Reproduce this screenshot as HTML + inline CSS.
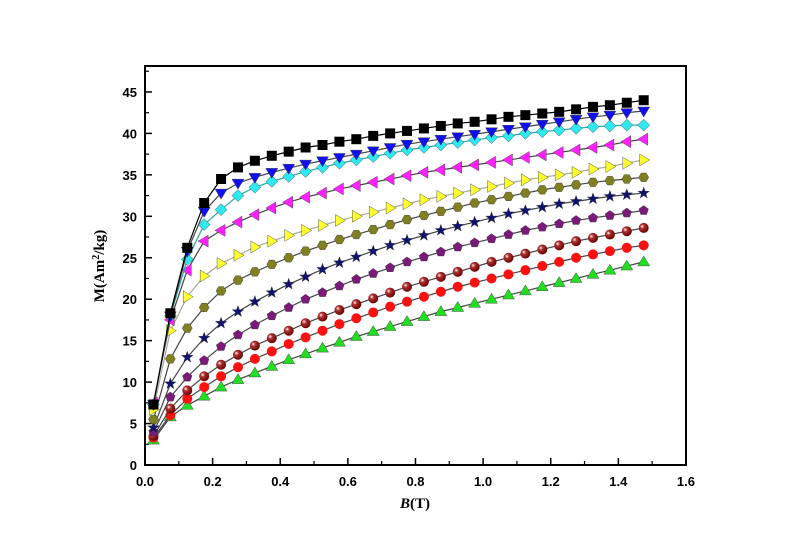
<!DOCTYPE html>
<html><head><meta charset="utf-8"><style>
body{margin:0;background:#fff;}
svg{display:block;}
text{font-family:"Liberation Sans",sans-serif;}
</style></head><body>
<svg id="chart" width="800" height="559">
<rect x="145" y="66" width="541" height="399" fill="none" stroke="#000" stroke-width="2"/>
<g id="axes"></g>
<g id="series"></g>
<text x="415" y="508" text-anchor="middle" font-size="15" font-weight="bold" style="font-family:'Liberation Serif',serif"><tspan font-style="italic">B</tspan>(T)</text>
<text transform="translate(104,266) rotate(-90)" text-anchor="middle" font-size="15" font-weight="bold" style="font-family:'Liberation Serif',serif">M(Am<tspan baseline-shift="super" font-size="10">2</tspan>/kg)</text>
<defs>
<radialGradient id="ball" cx="0.35" cy="0.35" r="0.7"><stop offset="0" stop-color="#fff"/><stop offset="0.3" stop-color="#b03030"/><stop offset="1" stop-color="#600000"/></radialGradient>
</defs>
</svg>
<script>
const xVals=[0.025,0.075,0.125,0.175,0.225,0.275,0.325,0.375,0.425,0.475,0.525,0.575,0.625,0.675,0.725,0.775,0.825,0.875,0.925,0.975,1.025,1.075,1.125,1.175,1.225,1.275,1.325,1.375,1.425,1.475];
const sBlack=[7.3,18.3,26.2,31.6,34.5,35.9,36.7,37.3,37.8,38.3,38.6,39,39.3,39.7,40,40.3,40.6,40.9,41.2,41.4,41.7,42,42.2,42.4,42.6,42.9,43.2,43.4,43.7,44];
const sBlue=[7.3,18,25.8,30.6,32.8,34,34.7,35.3,35.8,36.3,36.7,37.1,37.5,37.9,38.3,38.7,39,39.3,39.6,39.9,40.2,40.5,40.8,41.1,41.4,41.7,42,42.2,42.5,42.7];
const sCyan=[7.3,18,24.8,29,30.8,32.5,33.5,34.2,34.8,35.4,35.9,36.4,36.8,37.2,37.6,38,38.3,38.6,38.9,39.2,39.5,39.7,40,40.2,40.4,40.6,40.8,40.9,41,41];
const sMagenta=[7.5,17.5,23.5,27,28.3,29.3,30.2,31,31.7,32.3,32.8,33.3,33.7,34.1,34.5,34.9,35.3,35.6,35.9,36.2,36.5,36.8,37.1,37.4,37.7,38,38.3,38.6,39,39.3];
const sYellow=[6.7,16.2,20.3,22.8,24.3,25.3,26.3,27,27.7,28.3,28.9,29.5,30,30.5,31,31.5,32,32.4,32.8,33.2,33.6,34,34.4,34.7,35,35.3,35.7,36,36.4,36.8];
const sOlive=[5.5,12.8,16.5,19,21,22.3,23.3,24.2,25,25.8,26.5,27.2,27.8,28.4,29,29.6,30.1,30.6,31.1,31.6,32,32.4,32.8,33.2,33.5,33.8,34.1,34.3,34.5,34.7];
const sStar=[4.5,9.8,13,15.3,17.1,18.5,19.7,20.8,21.8,22.7,23.6,24.4,25.1,25.8,26.5,27.1,27.7,28.3,28.8,29.3,29.8,30.3,30.7,31.1,31.5,31.8,32.1,32.4,32.6,32.8];
const sPurple=[4,8.2,10.6,12.6,14.3,15.7,16.9,18,19,20,20.8,21.6,22.4,23.1,23.8,24.5,25.1,25.7,26.3,26.8,27.3,27.8,28.3,28.7,29.1,29.5,29.8,30.1,30.4,30.7];
const sDarkRed=[3.5,6.8,9,10.7,12.1,13.3,14.4,15.3,16.2,17.1,17.9,18.7,19.4,20.1,20.8,21.5,22.1,22.7,23.3,23.9,24.5,25,25.5,26,26.5,27,27.4,27.8,28.2,28.6];
const sRed=[3.3,6,8,9.4,10.7,11.8,12.8,13.7,14.6,15.4,16.2,17,17.7,18.4,19.1,19.7,20.3,20.9,21.5,22,22.5,23,23.5,24,24.5,25,25.4,25.8,26.2,26.5];
const sGreen=[3,5.8,7.2,8.3,9.4,10.3,11.1,11.9,12.7,13.4,14.1,14.8,15.5,16.1,16.7,17.3,17.9,18.5,19,19.5,20,20.5,21,21.5,22,22.5,23,23.5,24,24.5];
const xTicks=[0,0.2,0.4,0.6,0.8,1.0,1.2,1.4,1.6];
const xTickLabels=["0.0","0.2","0.4","0.6","0.8","1.0","1.2","1.4","1.6"];
const yTicks=[0,5,10,15,20,25,30,35,40,45];

const NS="http://www.w3.org/2000/svg";
const X=v=>145+v*338.1;
const Y=v=>465-v*8.29;
function mk(tag,attrs,parent){const e=document.createElementNS(NS,tag);for(const k in attrs)e.setAttribute(k,attrs[k]);parent.appendChild(e);return e;}
const ax=document.getElementById('axes');
for(let i=0;i<xTicks.length;i++){
  const x=X(xTicks[i]);
  const t=mk('line',{x1:x,x2:x,y1:465,y2:458,stroke:'#000','stroke-width':1.5},ax);
  
  
  if(i<xTicks.length-1){const m=mk('line',{x1:X(xTicks[i]+0.1),x2:X(xTicks[i]+0.1),y1:465,y2:461,stroke:'#000','stroke-width':1.2},ax);
  
  }
  const l=mk('text',{x:x,y:486,'text-anchor':'middle','font-size':13,'font-weight':'bold'},ax);
  l.textContent=xTickLabels[i];
  
  
}
for(let i=0;i<yTicks.length;i++){
  const y=Y(yTicks[i]);
  const t=mk('line',{x1:145,x2:152,y1:y,y2:y,stroke:'#000','stroke-width':1.5},ax);
  
  
  const m=mk('line',{x1:145,x2:149,y1:Y(yTicks[i]+2.5),y2:Y(yTicks[i]+2.5),stroke:'#000','stroke-width':1.2},ax);
  
  
  const l=mk('text',{x:137,y:y+5,'text-anchor':'end','font-size':13,'font-weight':'bold'},ax);
  l.textContent=String(yTicks[i]);
  
  
}
function shape(type,fill,cx,cy,g){
  const r=5;let e;
  const poly=(pts)=>mk('polygon',{points:pts.map(p=>p.join(',')).join(' '),fill:fill,stroke:'#333','stroke-width':0.4},g);
  if(type==='square')e=mk('rect',{x:cx-r,y:cy-r,width:2*r,height:2*r,fill:fill},g);
  else if(type==='tdown')e=poly([[cx-r-1,cy-r+1],[cx+r+1,cy-r+1],[cx,cy+r+1]]);
  else if(type==='tup')e=poly([[cx-r-1,cy+r-1],[cx+r+1,cy+r-1],[cx,cy-r-1]]);
  else if(type==='tleft')e=poly([[cx+r-1,cy-r-1],[cx+r-1,cy+r+1],[cx-r-1,cy]]);
  else if(type==='tright')e=poly([[cx-r+1,cy-r-1],[cx-r+1,cy+r+1],[cx+r+1,cy]]);
  else if(type==='diamond')e=poly([[cx,cy-r-1],[cx+r+1,cy],[cx,cy+r+1],[cx-r-1,cy]]);
  else if(type==='hex'){const p=[];for(let k=0;k<6;k++){const a=Math.PI/3*k;p.push([cx+r*Math.cos(a),cy+r*Math.sin(a)]);}e=poly(p);}
  else if(type==='pent'){const p=[];for(let k=0;k<5;k++){const a=-Math.PI/2+2*Math.PI/5*k;p.push([cx+r*Math.cos(a),cy+r*Math.sin(a)]);}e=poly(p);}
  else if(type==='star'){const p=[];for(let k=0;k<10;k++){const a=-Math.PI/2+Math.PI/5*k;const rr=k%2?2.4:6;p.push([cx+rr*Math.cos(a),cy+rr*Math.sin(a)]);}e=poly(p);}
  else e=mk('circle',{cx:cx,cy:cy,r:r,fill:fill},g);
  return e;
}
const defs=[
 ['green',sGreen,'tup','#22dd22','#444'],
 ['red',sRed,'circle','#ff1010','#444'],
 ['darkred',sDarkRed,'ball','url(#ball)','#444'],
 ['purple',sPurple,'pent','#7b1a7b','#444'],
 ['navy',sStar,'star','#101070','#444'],
 ['olive',sOlive,'hex','#808020','#444'],
 ['yellow',sYellow,'tright','#ffff30','#aa9'],
 ['magenta',sMagenta,'tleft','#ff20ff','#444'],
 ['cyan',sCyan,'diamond','#30e8f0','#2aa'],
 ['blue',sBlue,'tdown','#1010ee','#444'],
 ['black',sBlack,'square','#000','#000']
];
const sg=document.getElementById('series');
defs.forEach(([name,vals,type,fill,lc])=>{
  const g=mk('g',{},sg);
  
  
  const pl=mk('polyline',{points:vals.map((v,i)=>X(xVals[i])+','+Y(v)).join(' '),fill:'none',stroke:lc,'stroke-width':1.2},g);
  
  
  vals.forEach((v,i)=>{
    const e=shape(type,fill,X(xVals[i]),Y(v),g);
    
    
  });
});
</script>
</body></html>
